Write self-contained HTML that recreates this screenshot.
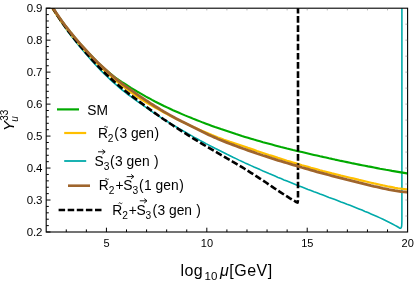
<!DOCTYPE html>
<html><head><meta charset="utf-8"><title>plot</title><style>html,body{margin:0;padding:0;background:#fff;}body{width:415px;height:282px;overflow:hidden;position:relative;font-family:"Liberation Sans",sans-serif;}</style></head><body>
<svg width="415" height="282" viewBox="0 0 415 282" style="position:absolute;left:0;top:0;will-change:transform">
<defs><clipPath id="c"><rect x="46.2" y="8.2" width="361.4" height="223.8"/></clipPath></defs>
<rect width="415" height="282" fill="#fff"/>
<g clip-path="url(#c)" fill="none" stroke-linejoin="round">
<path d="M47.0,-0.8 L50.0,4.4 L53.0,9.3 L56.0,14.2 L59.0,18.8 L62.0,23.3 L65.0,27.6 L68.0,31.7 L71.0,35.7 L74.0,39.6 L77.0,43.3 L80.0,47.0 L83.0,50.6 L86.0,54.1 L89.0,57.6 L92.0,61.0 L95.0,64.3 L98.0,67.5 L101.0,70.6 L104.0,73.6 L107.0,76.5 L110.0,79.3 L113.0,82.1 L116.0,84.7 L119.0,87.3 L122.0,89.8 L125.0,92.2 L128.0,94.5 L131.0,96.7 L134.0,98.9 L137.0,101.1 L140.0,103.2 L143.0,105.3 L146.0,107.4 L149.0,109.5 L152.0,111.6 L155.0,113.6 L158.0,115.6 L161.0,117.6 L164.0,119.5 L167.0,121.3 L170.0,123.2 L173.0,125.0 L176.0,126.8 L179.0,128.6 L182.0,130.3 L185.0,132.0 L188.0,133.8 L191.0,135.4 L194.0,137.1 L197.0,138.7 L200.0,140.4 L203.0,142.0 L206.0,143.6 L209.0,145.1 L212.0,146.7 L215.0,148.3 L218.0,149.8 L221.0,151.3 L224.0,152.8 L227.0,154.3 L230.0,155.7 L233.0,157.2 L236.0,158.6 L239.0,160.1 L242.0,161.5 L245.0,162.9 L248.0,164.2 L251.0,165.6 L254.0,167.0 L257.0,168.3 L260.0,169.6 L263.0,171.0 L266.0,172.3 L269.0,173.6 L272.0,174.8 L275.0,176.1 L278.0,177.4 L281.0,178.6 L284.0,179.9 L287.0,181.1 L290.0,182.3 L293.0,183.5 L296.0,184.7 L299.0,185.9 L302.0,187.0 L305.0,188.2 L308.0,189.4 L311.0,190.5 L314.0,191.7 L317.0,192.8 L320.0,194.0 L323.0,195.1 L326.0,196.2 L329.0,197.4 L332.0,198.5 L335.0,199.6 L338.0,200.7 L341.0,201.9 L344.0,203.0 L347.0,204.2 L350.0,205.3 L353.0,206.5 L356.0,207.7 L359.0,208.9 L362.0,210.1 L365.0,211.4 L368.0,212.6 L371.0,213.9 L374.0,215.2 L377.0,216.5 L380.0,217.9 L383.0,219.3 L386.0,220.8 L389.0,222.3 L392.0,223.8 L395.0,225.4 L396.7,226.3 L399.2,227.8 C400.3,228.6 401.2,228.6 401.6,226.5 C401.9,224.5 401.9,222 401.9,218 L401.9,0" stroke="#00aaaa" stroke-width="1.6"/>
<path d="M47.0,-1.8 L50.0,3.1 L53.0,7.9 L56.0,12.6 L59.0,17.0 L62.0,21.2 L65.0,25.3 L68.0,29.2 L71.0,33.0 L74.0,36.6 L77.0,40.1 L80.0,43.6 L83.0,46.9 L86.0,50.2 L89.0,53.5 L92.0,56.6 L95.0,59.7 L98.0,62.7 L101.0,65.5 L104.0,68.3 L107.0,70.9 L110.0,73.4 L113.0,75.8 L116.0,78.0 L119.0,80.1 L122.0,82.1 L125.0,84.0 L128.0,85.9 L131.0,87.8 L134.0,89.6 L137.0,91.5 L140.0,93.2 L143.0,94.9 L146.0,96.6 L149.0,98.2 L152.0,99.9 L155.0,101.5 L158.0,103.0 L161.0,104.5 L164.0,106.0 L167.0,107.4 L170.0,108.8 L173.0,110.2 L176.0,111.5 L179.0,112.8 L182.0,114.1 L185.0,115.4 L188.0,116.6 L191.0,117.8 L194.0,119.1 L197.0,120.2 L200.0,121.4 L203.0,122.6 L206.0,123.7 L209.0,124.8 L212.0,125.9 L215.0,127.0 L218.0,128.0 L221.0,129.1 L224.0,130.1 L227.0,131.1 L230.0,132.1 L233.0,133.1 L236.0,134.1 L239.0,135.0 L242.0,136.0 L245.0,136.9 L248.0,137.8 L251.0,138.7 L254.0,139.6 L257.0,140.4 L260.0,141.3 L263.0,142.2 L266.0,143.0 L269.0,143.8 L272.0,144.6 L275.0,145.4 L278.0,146.2 L281.0,147.0 L284.0,147.7 L287.0,148.5 L290.0,149.2 L293.0,150.0 L296.0,150.7 L299.0,151.4 L302.0,152.1 L305.0,152.8 L308.0,153.5 L311.0,154.2 L314.0,154.9 L317.0,155.6 L320.0,156.3 L323.0,156.9 L326.0,157.6 L329.0,158.3 L332.0,158.9 L335.0,159.6 L338.0,160.2 L341.0,160.9 L344.0,161.5 L347.0,162.1 L350.0,162.7 L353.0,163.4 L356.0,164.0 L359.0,164.6 L362.0,165.2 L365.0,165.8 L368.0,166.4 L371.0,166.9 L374.0,167.5 L377.0,168.1 L380.0,168.7 L383.0,169.2 L386.0,169.8 L389.0,170.3 L392.0,170.9 L395.0,171.4 L398.0,171.9 L401.0,172.4 L404.0,172.9 L407.0,173.4 L407.6,173.5" stroke="#00aa00" stroke-width="2.1"/>
<path d="M47.0,-0.5 L50.0,4.5 L53.0,9.3 L56.0,13.9 L59.0,18.4 L62.0,22.6 L65.0,26.7 L68.0,30.6 L71.0,34.4 L74.0,38.1 L77.0,41.6 L80.0,45.1 L83.0,48.5 L86.0,51.8 L89.0,55.1 L92.0,58.2 L95.0,61.3 L98.0,64.3 L101.0,67.2 L104.0,70.1 L107.0,72.8 L110.0,75.5 L113.0,78.1 L116.0,80.6 L119.0,83.1 L122.0,85.5 L125.0,87.8 L128.0,90.1 L131.0,92.3 L134.0,94.4 L137.0,96.5 L140.0,98.5 L143.0,100.5 L146.0,102.3 L149.0,104.1 L152.0,105.8 L155.0,107.5 L158.0,109.1 L161.0,110.8 L164.0,112.5 L167.0,114.1 L170.0,115.7 L173.0,117.3 L176.0,118.8 L179.0,120.2 L182.0,121.7 L185.0,123.1 L188.0,124.5 L191.0,125.9 L194.0,127.2 L197.0,128.6 L200.0,129.9 L203.0,131.2 L206.0,132.5 L209.0,133.8 L212.0,135.1 L215.0,136.3 L218.0,137.5 L221.0,138.6 L224.0,139.7 L227.0,140.7 L230.0,141.8 L233.0,142.8 L236.0,143.8 L239.0,144.8 L242.0,145.8 L245.0,146.8 L248.0,147.9 L251.0,148.9 L254.0,149.9 L257.0,151.0 L260.0,152.0 L263.0,153.0 L266.0,154.0 L269.0,155.0 L272.0,155.9 L275.0,156.9 L278.0,157.9 L281.0,158.8 L284.0,159.7 L287.0,160.7 L290.0,161.6 L293.0,162.5 L296.0,163.4 L299.0,164.3 L302.0,165.2 L305.0,166.0 L308.0,166.9 L311.0,167.8 L314.0,168.6 L317.0,169.4 L320.0,170.3 L323.0,171.1 L326.0,171.8 L329.0,172.6 L332.0,173.4 L335.0,174.1 L338.0,174.8 L341.0,175.6 L344.0,176.3 L347.0,177.0 L350.0,177.7 L353.0,178.4 L356.0,179.1 L359.0,179.9 L362.0,180.6 L365.0,181.3 L368.0,182.0 L371.0,182.7 L374.0,183.4 L377.0,184.0 L380.0,184.7 L383.0,185.4 L386.0,186.0 L389.0,186.7 L392.0,187.2 L395.0,187.8 L398.0,188.3 L401.0,188.7 L404.0,189.0 L407.0,189.3 L407.6,189.4" stroke="#ffbf00" stroke-width="2.2"/>
<path d="M47.0,-1.4 L50.0,3.7 L53.0,8.5 L56.0,13.3 L59.0,17.9 L62.0,22.3 L65.0,26.5 L68.0,30.6 L71.0,34.5 L74.0,38.4 L77.0,42.1 L80.0,45.7 L83.0,49.2 L86.0,52.8 L89.0,56.2 L92.0,59.6 L95.0,62.8 L98.0,66.0 L101.0,69.1 L104.0,72.1 L107.0,75.0 L110.0,77.8 L113.0,80.5 L116.0,83.2 L119.0,85.8 L122.0,88.3 L125.0,90.7 L128.0,93.1 L131.0,95.3 L134.0,97.6 L137.0,99.8 L140.0,102.1 L143.0,104.3 L146.0,106.5 L149.0,108.8 L152.0,111.0 L155.0,113.1 L158.0,115.3 L161.0,117.4 L164.0,119.5 L167.0,121.5 L170.0,123.5 L173.0,125.5 L176.0,127.5 L179.0,129.4 L182.0,131.3 L185.0,133.2 L188.0,135.1 L191.0,137.0 L194.0,138.8 L197.0,140.7 L200.0,142.5 L203.0,144.3 L206.0,146.1 L209.0,147.8 L212.0,149.6 L215.0,151.4 L218.0,153.1 L221.0,154.9 L224.0,156.6 L227.0,158.4 L230.0,160.1 L233.0,161.9 L236.0,163.6 L239.0,165.4 L242.0,167.2 L245.0,169.0 L248.0,170.9 L251.0,172.8 L254.0,174.7 L257.0,176.6 L260.0,178.6 L263.0,180.5 L266.0,182.5 L269.0,184.6 L272.0,186.6 L275.0,188.7 L278.0,190.7 L281.0,192.6 L284.0,194.5 L287.0,196.4 L290.0,198.3 L293.0,200.1 L296.0,201.8 L296.8,202.3 L297.6,202.6 L298,200 L298,0" stroke="#000" stroke-width="2.6" stroke-dasharray="6.65 2.55" stroke-dashoffset="8.1"/>
<path d="M47.0,-1.8 L50.0,3.1 L53.0,7.9 L56.0,12.6 L59.0,17.0 L62.0,21.2 L65.0,25.3 L68.0,29.2 L71.0,33.0 L74.0,36.6 L77.0,40.1 L80.0,43.6 L83.0,46.9 L86.0,50.2 L89.0,53.5 L92.0,56.6 L95.0,59.7 L98.0,62.7 L101.0,65.5 L104.0,68.3 L107.0,71.1 L110.0,73.7 L113.0,76.3 L116.0,78.8 L119.0,81.2 L122.0,83.6 L125.0,85.8 L128.0,88.0 L131.0,90.2 L134.0,92.2 L137.0,94.3 L140.0,96.4 L143.0,98.4 L146.0,100.4 L149.0,102.3 L152.0,104.3 L155.0,106.2 L158.0,108.0 L161.0,109.9 L164.0,111.7 L167.0,113.4 L170.0,115.1 L173.0,116.8 L176.0,118.4 L179.0,120.0 L182.0,121.6 L185.0,123.1 L188.0,124.6 L191.0,126.1 L194.0,127.6 L197.0,129.0 L200.0,130.5 L203.0,132.0 L206.0,133.4 L209.0,134.9 L212.0,136.3 L215.0,137.6 L218.0,139.0 L221.0,140.2 L224.0,141.4 L227.0,142.6 L230.0,143.8 L233.0,144.9 L236.0,146.0 L239.0,147.1 L242.0,148.2 L245.0,149.3 L248.0,150.4 L251.0,151.4 L254.0,152.4 L257.0,153.5 L260.0,154.5 L263.0,155.5 L266.0,156.4 L269.0,157.4 L272.0,158.4 L275.0,159.3 L278.0,160.3 L281.0,161.2 L284.0,162.1 L287.0,163.0 L290.0,163.9 L293.0,164.8 L296.0,165.7 L299.0,166.6 L302.0,167.5 L305.0,168.3 L308.0,169.2 L311.0,170.1 L314.0,170.9 L317.0,171.8 L320.0,172.6 L323.0,173.4 L326.0,174.2 L329.0,175.0 L332.0,175.8 L335.0,176.6 L338.0,177.4 L341.0,178.2 L344.0,178.9 L347.0,179.7 L350.0,180.4 L353.0,181.2 L356.0,181.9 L359.0,182.7 L362.0,183.4 L365.0,184.1 L368.0,184.8 L371.0,185.6 L374.0,186.3 L377.0,186.9 L380.0,187.6 L383.0,188.3 L386.0,188.9 L389.0,189.6 L392.0,190.1 L395.0,190.7 L398.0,191.2 L401.0,191.6 L404.0,191.9 L407.0,192.2 L407.6,192.3" stroke="#9f652d" stroke-width="2.8"/>
</g>
<rect x="46.2" y="8.2" width="361.4" height="223.8" fill="none" stroke="#000" stroke-width="1.1"/>
<path d="M46.2,232.00h4.3 M46.2,225.61h2.6 M46.2,219.21h2.6 M46.2,212.82h2.6 M46.2,206.42h2.6 M46.2,200.03h4.3 M46.2,193.63h2.6 M46.2,187.24h2.6 M46.2,180.85h2.6 M46.2,174.45h2.6 M46.2,168.06h4.3 M46.2,161.66h2.6 M46.2,155.27h2.6 M46.2,148.87h2.6 M46.2,142.48h2.6 M46.2,136.09h4.3 M46.2,129.69h2.6 M46.2,123.30h2.6 M46.2,116.90h2.6 M46.2,110.51h2.6 M46.2,104.11h4.3 M46.2,97.72h2.6 M46.2,91.33h2.6 M46.2,84.93h2.6 M46.2,78.54h2.6 M46.2,72.14h4.3 M46.2,65.75h2.6 M46.2,59.35h2.6 M46.2,52.96h2.6 M46.2,46.57h2.6 M46.2,40.17h4.3 M46.2,33.78h2.6 M46.2,27.38h2.6 M46.2,20.99h2.6 M46.2,14.59h2.6 M46.2,8.20h4.3 M66.28,232.0v-2.6 M86.36,232.0v-2.6 M106.43,232.0v-4.3 M126.51,232.0v-2.6 M146.59,232.0v-2.6 M166.67,232.0v-2.6 M186.74,232.0v-2.6 M206.82,232.0v-4.3 M226.90,232.0v-2.6 M246.98,232.0v-2.6 M267.06,232.0v-2.6 M287.13,232.0v-2.6 M307.21,232.0v-4.3 M327.29,232.0v-2.6 M347.37,232.0v-2.6 M367.44,232.0v-2.6 M387.52,232.0v-2.6" stroke="#000" stroke-width="1" fill="none"/>
<path d="M66.28,8.2v2.2 M86.36,8.2v2.2 M106.43,8.2v2.2 M126.51,8.2v2.2 M146.59,8.2v2.2 M166.67,8.2v2.2 M186.74,8.2v2.2 M206.82,8.2v2.2 M226.90,8.2v2.2 M246.98,8.2v2.2 M267.06,8.2v2.2 M287.13,8.2v2.2 M307.21,8.2v2.2 M327.29,8.2v2.2 M347.37,8.2v2.2 M367.44,8.2v2.2 M387.52,8.2v2.2 M407.6,216.01h-2.2 M407.6,200.03h-2.2 M407.6,184.04h-2.2 M407.6,168.06h-2.2 M407.6,152.07h-2.2 M407.6,136.09h-2.2 M407.6,120.10h-2.2 M407.6,104.11h-2.2 M407.6,88.13h-2.2 M407.6,72.14h-2.2 M407.6,56.16h-2.2 M407.6,40.17h-2.2 M407.6,24.19h-2.2" stroke="#666" stroke-width="0.5" fill="none"/>
<g font-family="Liberation Sans, sans-serif" font-size="11.5px" letter-spacing="-0.15" fill="#000">
<text x="42.3" y="236.0" text-anchor="end">0.2</text>
<text x="42.3" y="204.0" text-anchor="end">0.3</text>
<text x="42.3" y="172.1" text-anchor="end">0.4</text>
<text x="42.3" y="140.1" text-anchor="end">0.5</text>
<text x="42.3" y="108.1" text-anchor="end">0.6</text>
<text x="42.3" y="76.1" text-anchor="end">0.7</text>
<text x="42.3" y="44.2" text-anchor="end">0.8</text>
<text x="42.3" y="12.2" text-anchor="end">0.9</text>
<text x="106.5" y="247.3" text-anchor="middle" font-size="11px" letter-spacing="0">5</text>
<text x="206.9" y="247.3" text-anchor="middle" font-size="11px" letter-spacing="0">10</text>
<text x="307.3" y="247.3" text-anchor="middle" font-size="11px" letter-spacing="0">15</text>
<text x="407.7" y="247.3" text-anchor="middle" font-size="11px" letter-spacing="0">20</text>
</g>
<path d="M57,109.4H79" stroke="#00aa00" stroke-width="2.2" fill="none"/>
<text x="87.3" y="114.9" font-family="Liberation Sans, sans-serif" font-size="13.8px" fill="#000">SM</text>
<path d="M64.2,133.0H86.2" stroke="#ffbf00" stroke-width="2.2" fill="none"/>
<path d="M64.2,161.0H86.2" stroke="#00aaaa" stroke-width="1.8" fill="none"/>
<path d="M68,185.7H90" stroke="#9f652d" stroke-width="2.6" fill="none"/>
<path d="M58.6,210.1H101.8" stroke="#000" stroke-width="2.5" fill="none" stroke-dasharray="6.5 2.6"/>
<text x="97.9" y="138.2" font-family="Liberation Sans, sans-serif" font-size="13.8px" fill="#000">R<tspan dy="3.9" font-size="10.2px">2</tspan></text><path d="M104.2,127.0c0.6,-0.8 1.3,-0.8 1.9,-0.2 c0.6,0.6 1.3,0.6 1.9,-0.2" stroke="#000" stroke-width="0.9" fill="none"/>
<text x="114.3" y="138.2" font-family="Liberation Sans, sans-serif" font-size="13.8px" fill="#000">(<tspan dx="0.5">3 gen</tspan><tspan dx="0.5">)</tspan></text>
<text x="94.6" y="165.6" font-family="Liberation Sans, sans-serif" font-size="13.8px" fill="#000">S<tspan dy="3.9" font-size="10.2px">3</tspan></text><path d="M98.0,151.8h7 m-2.6,-2.2 l2.8,2.2 l-2.8,2.2" stroke="#000" stroke-width="0.9" fill="none" stroke-linejoin="miter"/>
<text x="110.0" y="165.6" font-family="Liberation Sans, sans-serif" font-size="13.8px" fill="#000">(<tspan dx="0.5">3 gen </tspan><tspan dx="0.5">)</tspan></text>
<text x="98.8" y="190.4" font-family="Liberation Sans, sans-serif" font-size="13.8px" fill="#000">R<tspan dy="3.9" font-size="10.2px">2</tspan></text><path d="M105.1,179.2c0.6,-0.8 1.3,-0.8 1.9,-0.2 c0.6,0.6 1.3,0.6 1.9,-0.2" stroke="#000" stroke-width="0.9" fill="none"/>
<text x="115.4" y="190.4" font-family="Liberation Sans, sans-serif" font-size="13.8px" fill="#000">+</text>
<text x="123.3" y="190.4" font-family="Liberation Sans, sans-serif" font-size="13.8px" fill="#000">S<tspan dy="3.9" font-size="10.2px">3</tspan></text><path d="M126.7,176.6h7 m-2.6,-2.2 l2.8,2.2 l-2.8,2.2" stroke="#000" stroke-width="0.9" fill="none" stroke-linejoin="miter"/>
<text x="139.0" y="190.4" font-family="Liberation Sans, sans-serif" font-size="13.8px" fill="#000">(<tspan dx="0.5">1 gen</tspan><tspan dx="0.5">)</tspan></text>
<text x="112.2" y="214.6" font-family="Liberation Sans, sans-serif" font-size="13.8px" fill="#000">R<tspan dy="3.9" font-size="10.2px">2</tspan></text><path d="M118.5,203.4c0.6,-0.8 1.3,-0.8 1.9,-0.2 c0.6,0.6 1.3,0.6 1.9,-0.2" stroke="#000" stroke-width="0.9" fill="none"/>
<text x="128.7" y="214.6" font-family="Liberation Sans, sans-serif" font-size="13.8px" fill="#000">+</text>
<text x="136.4" y="214.6" font-family="Liberation Sans, sans-serif" font-size="13.8px" fill="#000">S<tspan dy="3.9" font-size="10.2px">3</tspan></text><path d="M139.8,200.8h7 m-2.6,-2.2 l2.8,2.2 l-2.8,2.2" stroke="#000" stroke-width="0.9" fill="none" stroke-linejoin="miter"/>
<text x="152.4" y="214.6" font-family="Liberation Sans, sans-serif" font-size="13.8px" fill="#000">(<tspan dx="0.5">3 gen </tspan><tspan dx="0.5">)</tspan></text>
<text x="180.4" y="275.5" font-family="Liberation Sans, sans-serif" fill="#000" font-size="16px" letter-spacing="0.5">log</text>
<text x="204.5" y="280.1" font-family="Liberation Sans, sans-serif" fill="#000" font-size="11.5px">10</text>
<text x="220" y="275.5" font-family="Liberation Sans, sans-serif" fill="#000" font-size="16px" font-style="italic">μ</text>
<text x="229.3" y="275.5" font-family="Liberation Sans, sans-serif" fill="#000" font-size="16px" letter-spacing="0.5">[GeV]</text>
<g transform="translate(13.8,130.9) rotate(-90)"><text x="0" y="0" font-family="Liberation Sans, sans-serif" fill="#000" font-size="15px" font-style="italic">Y</text><text x="10.2" y="-5.8" font-family="Liberation Sans, sans-serif" fill="#000" font-size="10px">33</text><text x="9.2" y="4.3" font-family="Liberation Sans, sans-serif" fill="#000" font-size="10px" font-style="italic">u</text></g>
</svg>
</body></html>
